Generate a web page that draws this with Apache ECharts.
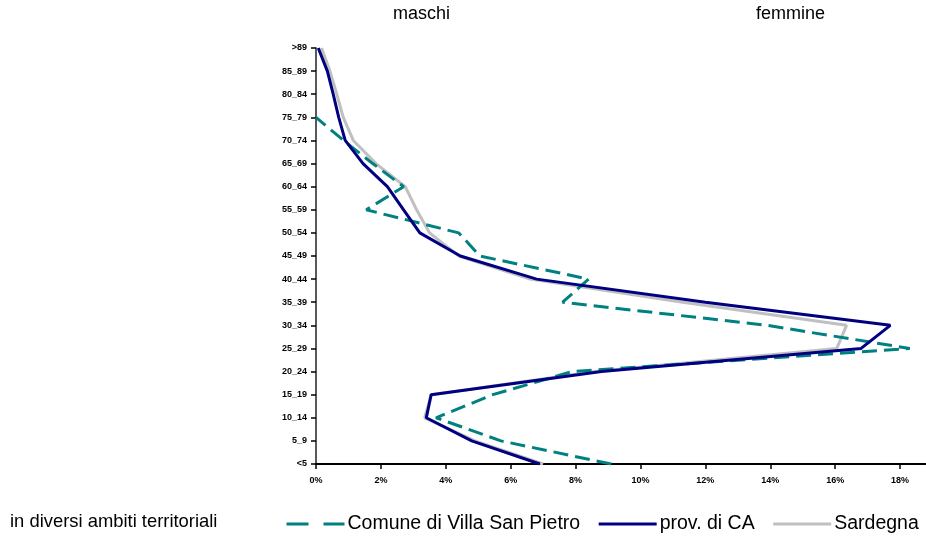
<!DOCTYPE html>
<html>
<head>
<meta charset="utf-8">
<script src="https://cdn.jsdelivr.net/npm/echarts@6/dist/echarts.min.js"></script>
<style>
html,body{margin:0;padding:0;background:#fff;}
#chart{width:926px;height:543px;}
</style>
</head>
<body>
<div id="chart"></div>
<script>
// Age classes, bottom to top
var categories = ['<5','5_9','10_14','15_19','20_24','25_29','30_34','35_39','40_44','45_49','50_54','55_59','60_64','65_69','70_74','75_79','80_84','85_89','>89'];
// Values in percent (null = not drawn)
var comune = [9.1, 5.7, 3.7, 5.45, 7.9, 18.3, 13.9, 7.6, 8.4, 5.05, 4.4, 1.55, 2.7, 1.75, 0.85, 0, null, null, null];
var provCA = [6.9, 4.8, 3.4, 3.55, 8.8, 16.8, 17.7, 12.0, 6.8, 4.45, 3.2, 2.7, 2.2, 1.45, 0.9, 0.7, 0.53, 0.35, 0.07];
var sardegna = [7.0, 4.9, 3.35, 3.55, 8.6, 16.05, 16.35, 11.3, 6.6, 4.4, 3.5, 3.1, 2.75, 1.85, 1.15, 0.84, 0.64, 0.43, 0.17];
var xTicks = [0, 2, 4, 6, 8, 10, 12, 14, 16, 18];
var seriesNames = ['Comune di Villa San Pietro', 'prov. di CA', 'Sardegna'];
var headings = ['maschi', 'femmine'];
var footNote = 'in diversi ambiti territoriali';

var FONT = 'Liberation Sans, Arial, sans-serif';
var chart = echarts.init(document.getElementById('chart'), null, {renderer: 'canvas'});
chart.setOption({
  animation: false,
  backgroundColor: '#ffffff',
  title: [
    {text: headings[0], left: 393, top: 5, padding: 0, textStyle: {fontSize: 18, fontWeight: 'normal', color: '#000', fontFamily: FONT}},
    {text: headings[1], left: 756, top: 5, padding: 0, textStyle: {fontSize: 18, fontWeight: 'normal', color: '#000', fontFamily: FONT}},
    {text: footNote, left: 10, top: 513, padding: 0, textStyle: {fontSize: 18.4, fontWeight: 'normal', color: '#000', fontFamily: FONT}}
  ],
  legend: {
    left: 285, top: 514, padding: 0,
    itemWidth: 58, itemHeight: 14, itemGap: 17,
    itemStyle: {opacity: 0},
    textStyle: {fontSize: 19.5, color: '#000', fontFamily: FONT, padding: [0, 0, 0, -2]},
    data: [
      {name: seriesNames[0], lineStyle: {type: [22, 15], width: 3, color: '#008080'}},
      {name: seriesNames[1], lineStyle: {width: 3, color: '#000080'}},
      {name: seriesNames[2], lineStyle: {width: 3, color: '#c0c0c0'}}
    ]
  },
  grid: {left: 316, right: 0, top: 48, bottom: 79, containLabel: false},
  xAxis: {
    type: 'value', min: 0, max: 18.8, interval: 2,
    axisLine: {show: true, lineStyle: {color: '#000', width: 2}},
    axisTick: {show: true, length: 5, lineStyle: {color: '#000', width: 1.5}, customValues: xTicks},
    axisLabel: {customValues: xTicks, formatter: function (v) { return v + '%'; }, fontSize: 9, fontWeight: 'bold', color: '#000', fontFamily: FONT, margin: 12},
    splitLine: {show: false}
  },
  yAxis: {
    type: 'category', data: categories, boundaryGap: false,
    axisLine: {show: true, lineStyle: {color: '#222', width: 1.5}},
    axisTick: {show: true, length: 5, lineStyle: {color: '#000', width: 1.5}},
    axisLabel: {fontSize: 9, fontWeight: 'bold', color: '#000', fontFamily: FONT, margin: 9, interval: 0},
    splitLine: {show: false}
  },
  series: [
    {name: seriesNames[0], type: 'line', data: comune, symbol: 'none', z: 3, connectNulls: false,
     lineStyle: {color: '#008080', width: 3, type: [15, 7]}, itemStyle: {color: '#008080'}},
    {name: seriesNames[1], type: 'line', data: provCA, symbol: 'none', z: 4,
     lineStyle: {color: '#000080', width: 3}, itemStyle: {color: '#000080'}},
    {name: seriesNames[2], type: 'line', data: sardegna, symbol: 'none', z: 2,
     lineStyle: {color: '#c0c0c0', width: 3}, itemStyle: {color: '#c0c0c0'}}
  ]
});
</script>
</body>
</html>
